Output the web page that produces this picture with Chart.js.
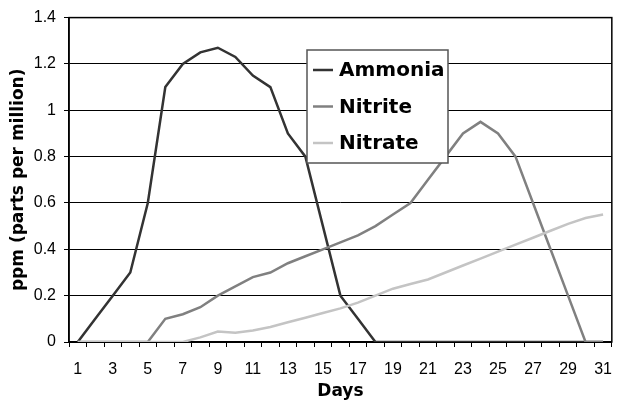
<!DOCTYPE html>
<html>
<head>
<meta charset="utf-8">
<script src="https://cdn.jsdelivr.net/npm/chart.js@4.4.1/dist/chart.umd.min.js"></script>
<style>
  html, body { margin: 0; padding: 0; background: #fff; }
  #wrap { width: 625px; height: 404px; position: relative; }
</style>
</head>
<body>
<div id="wrap"><canvas id="nitrogenplot"></canvas></div>
<script>
// cycle data
const days = ['1','2','3','4','5','6','7','8','9','10','11','12','13','14','15','16','17','18','19','20','21','22','23','24','25','26','27','28','29','30','31'];
const ammonia = [0, 0.1, 0.2, 0.3, 0.6, 1.1, 1.2, 1.25, 1.27, 1.23, 1.15, 1.1, 0.9, 0.8, 0.5, 0.2, 0.1, 0, 0, 0, 0, 0, 0, 0, 0, 0, 0, 0, 0, 0, 0];
const nitrite = [0, 0, 0, 0, 0, 0.1, 0.12, 0.15, 0.2, 0.24, 0.28, 0.3, 0.34, 0.37, 0.4, 0.43, 0.46, 0.5, 0.55, 0.6, 0.7, 0.8, 0.9, 0.95, 0.9, 0.8, 0.6, 0.4, 0.2, 0, 0];
const nitrate = [0, 0, 0, 0, 0, 0, 0, 0.02, 0.045, 0.04, 0.05, 0.065, 0.085, 0.105, 0.125, 0.145, 0.17, 0.2, 0.23, 0.25, 0.27, 0.3, 0.33, 0.36, 0.39, 0.42, 0.45, 0.48, 0.51, 0.535, 0.55];
const seriesNames = ['Ammonia', 'Nitrite', 'Nitrate'];
const yTicks = [0, 0.2, 0.4, 0.6, 0.8, 1, 1.2, 1.4];
const yTickLabels = ['0', '0.2', '0.4', '0.6', '0.8', '1', '1.2', '1.4'];

const tickFont = { family: '"Liberation Sans", Arial, sans-serif', size: 16 };
const titleFont = { family: '"DejaVu Sans", Verdana, sans-serif', size: 17, weight: 'bold' };

// outline round the plot area (top + right edges)
const frameBox = {
    id: 'frameBox',
    beforeDatasetsDraw(chart) {
        const { ctx, chartArea: a } = chart;
        ctx.save();
        ctx.strokeStyle = '#000';
        ctx.lineWidth = 1.5;
        ctx.strokeRect(a.left, a.top, a.right - a.left, a.bottom - a.top);
        ctx.restore();
    }
};

// boxed legend sitting inside the plot
const boxLegend = {
    id: 'boxLegend',
    afterDatasetsDraw(chart, args, opts) {
        const ctx = chart.ctx;
        ctx.save();
        ctx.fillStyle = '#fff';
        ctx.fillRect(opts.x, opts.y, opts.w, opts.h);
        ctx.strokeStyle = '#555';
        ctx.lineWidth = 1.5;
        ctx.strokeRect(opts.x, opts.y, opts.w, opts.h);
        ctx.font = 'bold 20px "DejaVu Sans", Verdana, sans-serif';
        ctx.textBaseline = 'middle';
        chart.data.datasets.forEach((ds, i) => {
            const y = opts.y + opts.first + i * opts.step;
            ctx.strokeStyle = ds.borderColor;
            ctx.lineWidth = 2.5;
            ctx.beginPath();
            ctx.moveTo(opts.x + 6, y);
            ctx.lineTo(opts.x + 26, y);
            ctx.stroke();
            ctx.fillStyle = '#000';
            ctx.fillText(ds.label, opts.x + 32, y + 1);
        });
        ctx.restore();
    }
};

function setupChart() {
    const ctx = document.getElementById('nitrogenplot').getContext('2d');
    new Chart(ctx, {
        type: 'line',
        data: {
            labels: days,
            datasets: [
                { label: seriesNames[0], data: ammonia, borderColor: '#333333', order: 3 },
                { label: seriesNames[1], data: nitrite, borderColor: '#808080', order: 2 },
                { label: seriesNames[2], data: nitrate, borderColor: '#c4c4c4', order: 1 }
            ]
        },
        options: {
            responsive: true,
            maintainAspectRatio: false,
            animation: false,
            layout: { padding: { top: 17, right: 2, bottom: 0, left: 0 } },
            elements: {
                line: { borderWidth: 2.5, tension: 0 },
                point: { radius: 0 }
            },
            plugins: {
                legend: { display: false },
                tooltip: { enabled: false },
                boxLegend: { x: 307, y: 50, w: 141, h: 113, first: 20, step: 36.5 }
            },
            scales: {
                x: {
                    offset: true,
                    grid: { display: true, drawOnChartArea: false, drawTicks: true, tickLength: 5, offset: true, color: '#000', lineWidth: 1 },
                    border: { display: true, color: '#000', width: 1.5 },
                    ticks: {
                        autoSkip: false,
                        maxRotation: 0,
                        padding: 13,
                        color: '#000',
                        font: tickFont,
                        callback: (v, i) => (i % 2 === 0 ? days[i] : '')
                    },
                    title: { display: true, text: 'Days', color: '#000', font: titleFont, padding: { top: 0, bottom: 2 } },
                    afterFit: (scale) => { scale.height = 62; }
                },
                y: {
                    min: 0,
                    max: 1.4,
                    afterBuildTicks: (scale) => { scale.ticks = yTicks.map(v => ({ value: v })); },
                    grid: { color: '#000', lineWidth: 1, tickLength: 5 },
                    border: { display: true, color: '#000', width: 1.5 },
                    ticks: { padding: 8, color: '#000', font: tickFont, callback: (v, i) => yTickLabels[i] },
                    title: { display: true, text: 'ppm (parts per million)', color: '#000', font: titleFont, padding: { top: 8, bottom: 0 } },
                    afterFit: (scale) => { scale.width = 69; }
                }
            }
        },
        plugins: [frameBox, boxLegend]
    });
}

document.addEventListener('DOMContentLoaded', setupChart);
</script>
</body>
</html>
